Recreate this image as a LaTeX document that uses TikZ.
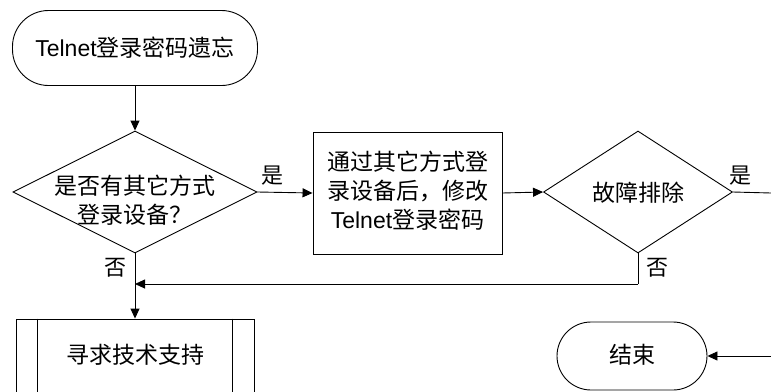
\documentclass[tikz,border=0pt]{standalone}
\usepackage{fontspec}
\setmainfont{Liberation Sans}
\newfontfamily\cjk{Noto Sans CJK SC}
\usetikzlibrary{arrows.meta,shapes.geometric}
\begin{document}
\begin{tikzpicture}[x=1pt,y=-1pt,
  every node/.style={font=\fontsize{23}{29}\selectfont, inner sep=0pt},
  line/.style={draw=black, line width=0.9pt},
  arr/.style={line, -{Triangle[length=10pt,width=9pt]}},
  terminal/.style={draw, line width=0.9pt, rounded corners=36pt},
  procbox/.style={draw, line width=0.9pt, rectangle},
  decision/.style={draw, line width=0.9pt, diamond},
  lbl/.style={font=\fontsize{22}{26}\selectfont\cjk}]
\useasboundingbox (0,0) rectangle (771,391);
\clip (0,0) rectangle (771,391);
% nodes
\node[terminal, minimum width=245pt, minimum height=75pt] (start) at (135,48) {};
\node (starttxt) at (135,48) {Telnet{\cjk 登录密码遗忘}};
\node[decision, minimum width=244pt, minimum height=122pt] (d1) at (135,192) {};
\node[align=center] (d1txt) at (135,200) {\cjk 是否有其它方式\\\cjk 登录设备？};
\node[procbox, minimum width=189pt, minimum height=122pt] (box2) at (407.5,193) {};
\node[align=center] (box2txt) at (407.5,191) {\cjk 通过其它方式登\\\cjk 录设备后，修改\\Telnet{\cjk 登录密码}};
\node[decision, minimum width=189pt, minimum height=122pt] (d2) at (638,192) {};
\node (d2txt) at (638,193) {\cjk 故障排除};
\node[procbox, minimum width=238pt, minimum height=73.5pt] (box3) at (135,355.75) {};
\node (box3txt) at (135,355) {\cjk 寻求技术支持};
\draw[line] ([xshift=22pt]box3.north west) -- ([xshift=22pt]box3.south west);
\draw[line] ([xshift=-22pt]box3.north east) -- ([xshift=-22pt]box3.south east);
\node[terminal, rounded corners=34pt, minimum width=150pt, minimum height=68pt] (endn) at (632,356) {};
\node (endtxt) at (632,355) {\cjk 结束};
% coordinates
\coordinate (yesR) at (771,193);
\coordinate (corner) at (638,284);
\coordinate (merge) at (135,284);
\coordinate (inR) at (771,356);
% connectors
\draw[arr] (start.south) -- (d1.north);
\draw[arr] (d1.east) -- (box2.west);
\draw[arr] (box2.east) -- (d2.west);
\draw[line] (d2.east) -- (yesR);
\draw[line] (d2.south) -- (corner);
\draw[arr] (corner) -- (merge);
\draw[arr] (d1.south) -- (box3.north);
\draw[arr] (inR) -- (endn.east);
% labels
\node[lbl] (y1) at (272,176) {是};
\node[lbl] (y2) at (740,176) {是};
\node[lbl] (n1) at (115,268) {否};
\node[lbl] (n2) at (657,268) {否};
\end{tikzpicture}
\end{document}
